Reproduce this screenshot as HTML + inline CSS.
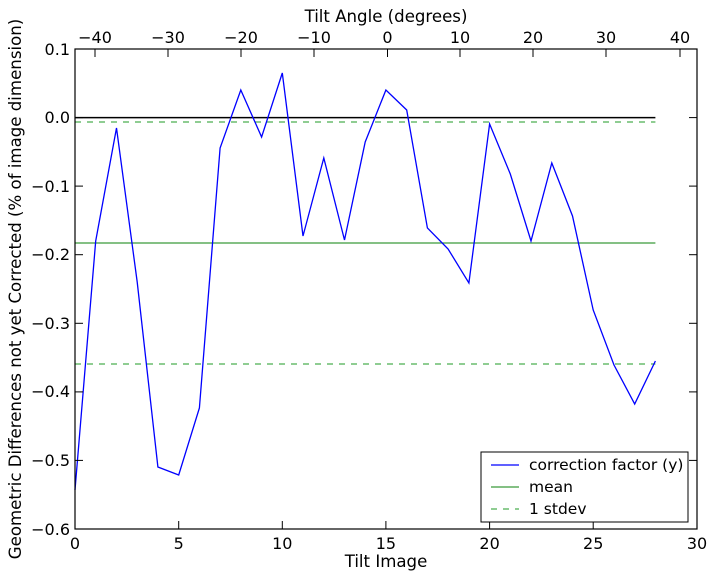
<!DOCTYPE html>
<html><head><meta charset="utf-8"><style>body{margin:0;background:#fff}svg{display:block}</style></head><body>
<svg width="714" height="579" xmlns="http://www.w3.org/2000/svg" font-family="DejaVu Sans, Liberation Sans, sans-serif" font-size="15.5">
<rect width="714" height="579" fill="#fff"/>
<line x1="75" y1="117.6" x2="655.4" y2="117.6" stroke="#000" stroke-width="1.5"/>
<line x1="75" y1="243" x2="655.4" y2="243" stroke="#3a9a3a" stroke-width="1.2"/>
<line x1="75" y1="122" x2="655.4" y2="122" stroke="#4caf50" stroke-width="1.2" stroke-dasharray="6,6"/>
<line x1="75" y1="364" x2="655.4" y2="364" stroke="#4caf50" stroke-width="1.2" stroke-dasharray="6,6"/>
<polyline fill="none" stroke="#0000ff" stroke-width="1.3" points="75,490 95.7,241 116.5,128 137.2,282 157.9,467 178.7,475 199.4,408 220.1,148 240.8,90 261.6,137 282.3,73 303,236 323.8,158 344.5,240 365.2,142 385.9,90 406.7,110 427.4,228 448.1,249 468.9,283 489.6,124 510.3,174 531,241 551.8,163 572.5,216 593.2,310 614,365 634.7,404 655.4,361"/>
<rect x="75" y="49" width="622" height="480" fill="none" stroke="#000" stroke-width="1.2"/>
<g stroke="#000" stroke-width="1">
<line x1="75" y1="529" x2="75" y2="521"/><line x1="178.7" y1="529" x2="178.7" y2="521"/><line x1="282.3" y1="529" x2="282.3" y2="521"/><line x1="385.9" y1="529" x2="385.9" y2="521"/><line x1="489.6" y1="529" x2="489.6" y2="521"/><line x1="593.2" y1="529" x2="593.2" y2="521"/>
<line x1="75" y1="49" x2="83" y2="49"/><line x1="75" y1="117.6" x2="83" y2="117.6"/><line x1="75" y1="186.1" x2="83" y2="186.1"/><line x1="75" y1="254.7" x2="83" y2="254.7"/><line x1="75" y1="323.3" x2="83" y2="323.3"/><line x1="75" y1="391.9" x2="83" y2="391.9"/><line x1="75" y1="460.4" x2="83" y2="460.4"/>
<line x1="697" y1="117.6" x2="689" y2="117.6"/><line x1="697" y1="186.1" x2="689" y2="186.1"/><line x1="697" y1="254.7" x2="689" y2="254.7"/><line x1="697" y1="323.3" x2="689" y2="323.3"/><line x1="697" y1="391.9" x2="689" y2="391.9"/><line x1="697" y1="460.4" x2="689" y2="460.4"/>
<line x1="95" y1="49" x2="95" y2="57"/><line x1="168" y1="49" x2="168" y2="57"/><line x1="241" y1="49" x2="241" y2="57"/><line x1="314" y1="49" x2="314" y2="57"/><line x1="387.5" y1="49" x2="387.5" y2="57"/><line x1="460" y1="49" x2="460" y2="57"/><line x1="533" y1="49" x2="533" y2="57"/><line x1="606" y1="49" x2="606" y2="57"/><line x1="680" y1="49" x2="680" y2="57"/>
</g>
<g text-anchor="middle" font-size="16">
<text x="75" y="549">0</text><text x="178.7" y="549">5</text><text x="282.3" y="549">10</text><text x="385.9" y="549">15</text><text x="489.6" y="549">20</text><text x="593.2" y="549">25</text><text x="697" y="549">30</text>
<text x="95" y="43">−40</text><text x="168" y="43">−30</text><text x="241" y="43">−20</text><text x="314" y="43">−10</text><text x="387.5" y="43">0</text><text x="460" y="43">10</text><text x="533" y="43">20</text><text x="606" y="43">30</text><text x="680" y="43">40</text>
</g>
<g text-anchor="middle" font-size="16.6">
<text x="386" y="567">Tilt Image</text>
<text x="386" y="22">Tilt Angle (degrees)</text>
<text transform="translate(21,289) rotate(-90)">Geometric Differences not yet Corrected (% of image dimension)</text>
</g>
<g text-anchor="end" font-size="16">
<text x="70" y="55">0.1</text><text x="70" y="123">0.0</text><text x="70" y="192">−0.1</text><text x="70" y="260">−0.2</text><text x="70" y="329">−0.3</text><text x="70" y="397">−0.4</text><text x="70" y="466">−0.5</text><text x="70" y="535">−0.6</text>
</g>
<rect x="481" y="452" width="207" height="70" fill="#fff" stroke="#000" stroke-width="1"/>
<line x1="491" y1="465" x2="519" y2="465" stroke="#0000ff" stroke-width="1.3"/>
<line x1="491" y1="487" x2="519" y2="487" stroke="#3a9a3a" stroke-width="1.2"/>
<line x1="491" y1="509" x2="519" y2="509" stroke="#4caf50" stroke-width="1.2" stroke-dasharray="6,6"/>
<text x="529" y="470">correction factor (y)</text>
<text x="529" y="492">mean</text>
<text x="529" y="514">1 stdev</text>
</svg>
</body></html>
